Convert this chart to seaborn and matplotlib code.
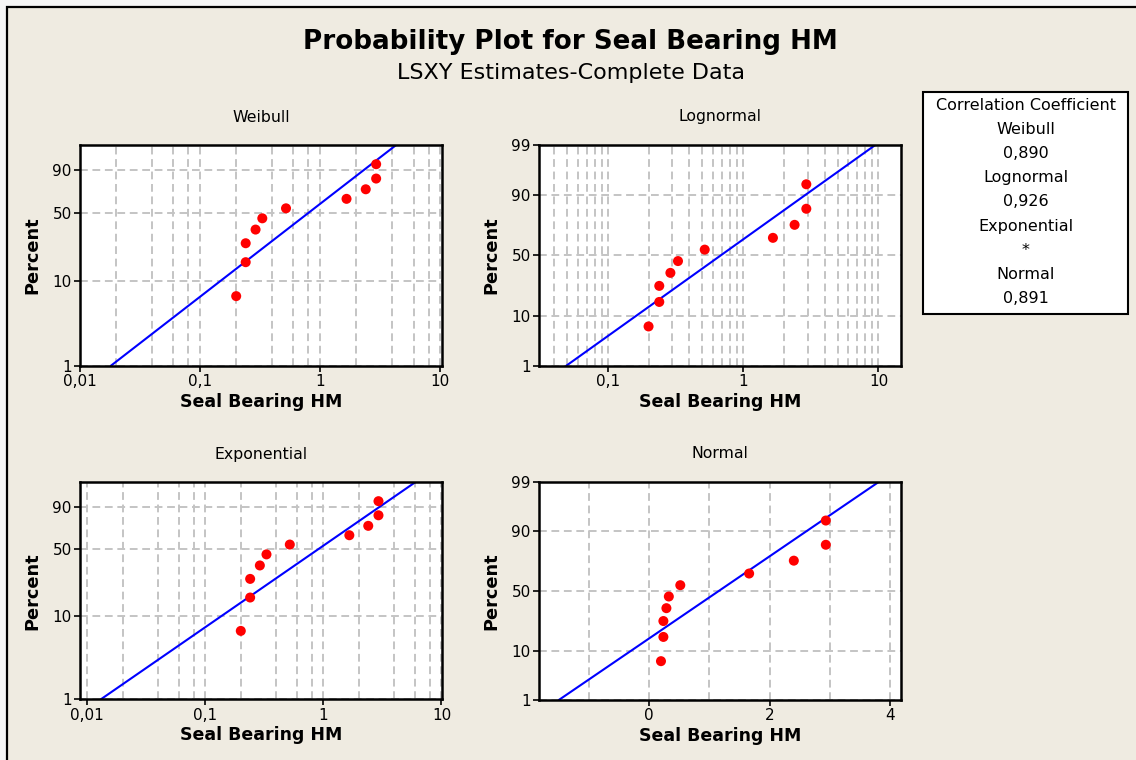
import numpy as np
import seaborn as sns
import matplotlib
matplotlib.use("Agg")
import matplotlib.pyplot as plt
from matplotlib.ticker import FixedLocator, NullLocator, FixedFormatter
from matplotlib.patches import Rectangle
from statistics import NormalDist

# data
seal_hm = [0.20, 0.24, 0.24, 0.29, 0.33, 0.52, 1.66, 2.40, 2.93, 2.93]
percent = [6.7, 16.3, 26.0, 35.6, 45.2, 54.8, 64.4, 74.0, 83.7, 93.3]

# fitted lines (LSXY estimates)
weibull_shape, weibull_scale = 1.12, 1.10
lognormal_loc, lognormal_scale = -0.38, 1.13
expo_mean = 1.30
normal_mean, normal_sd = 1.16, 1.14

corr_names = ["Weibull", "Lognormal", "Exponential", "Normal"]
corr_values = ["0,890", "0,926", "*", "0,891"]

log_ticks = [0.01, 0.1, 1, 10]
log_labels = ["0,01", "0,1", "1", "10"]
normal_ticks = [0, 2, 4]

BG = "#EFEBE1"
W, H = 1136, 760

sns.set_theme(style="white")
plt.rcParams["font.family"] = ["DejaVu Sans"]
plt.rcParams["text.color"] = "black"
plt.rcParams["axes.labelcolor"] = "black"
plt.rcParams["xtick.color"] = "black"
plt.rcParams["ytick.color"] = "black"

nd = NormalDist()
_inv_cdf = np.vectorize(nd.inv_cdf, otypes=[float])
_cdf = np.vectorize(nd.cdf, otypes=[float])


def _clip(p):
    return np.clip(np.asarray(p, dtype=float), 1e-6, 100 - 1e-6) / 100


def norm_fwd(p):
    return _inv_cdf(_clip(p))


def norm_inv(z):
    return 100 * _cdf(np.clip(np.asarray(z, dtype=float), -30, 30))


def weib_fwd(p):
    return np.log(-np.log1p(-_clip(p)))


def weib_inv(w):
    return 100 * -np.expm1(-np.exp(np.clip(np.asarray(w, dtype=float), -50, 5)))


line_pct = np.linspace(1, 99.9, 300)
z_line = norm_fwd(line_pct)
q_line = -np.log1p(-line_pct / 100)

fit_x = {
    "Weibull": weibull_scale * q_line ** (1 / weibull_shape),
    "Lognormal": np.exp(lognormal_loc + lognormal_scale * z_line),
    "Exponential": expo_mean * q_line,
    "Normal": normal_mean + normal_sd * z_line,
}

fig = plt.figure(figsize=(W / 100, H / 100), dpi=100)
fig.patch.set_facecolor("#F6F6F6")
fig.patches.append(Rectangle((7 / W, -0.1), 1.2, 1.1 - 7 / H, transform=fig.transFigure,
                             facecolor=BG, edgecolor="black", lw=1.6, zorder=-10))


def px_rect(left, top, right, bottom):
    return [left / W, 1 - bottom / H, (right - left) / W, (bottom - top) / H]


panels = [
    ("Weibull", px_rect(80, 145, 441.7, 365.7), "weibull", (0.01, 10.3), [1, 2, 4, 6, 8], False),
    ("Lognormal", px_rect(539, 145, 900.7, 365.7), "normal", (0.031, 14.6), [1, 2, 3, 4, 5, 6, 7, 8, 9], True),
    ("Exponential", px_rect(80, 482.3, 441.7, 699.3), "weibull", (0.0087, 10.05), [1, 2, 4, 6, 8], False),
    ("Normal", px_rect(539, 481.7, 900.7, 700), "normal", (-1.82, 4.17), None, True),
]

grid_kw = dict(color="#C4C4C4", linestyle=(0, (4, 2.4)), linewidth=1.4)

for name, rect, yscale, xlim, mult, show99 in panels:
    ax = fig.add_axes(rect)
    ax.set_zorder(2)
    ax.set_facecolor("white")

    sns.lineplot(x=fit_x[name], y=line_pct, ax=ax, color="#0000FF", lw=1.5,
                 sort=False, estimator=None, zorder=2)
    sns.scatterplot(x=seal_hm, y=percent, ax=ax, color="#FF0000", s=52,
                    edgecolor="none", zorder=3)

    if yscale == "weibull":
        ax.set_yscale("function", functions=(weib_fwd, weib_inv))
    else:
        ax.set_yscale("function", functions=(norm_fwd, norm_inv))
    ax.set_ylim(1, 99)
    yt = [1, 10, 50, 90, 99] if show99 else [1, 10, 50, 90]
    ax.yaxis.set_major_locator(FixedLocator(yt))
    ax.yaxis.set_major_formatter(FixedFormatter([str(v) for v in yt]))
    ax.yaxis.set_minor_locator(NullLocator())

    if mult is not None:
        ax.set_xscale("log")
        ax.set_xlim(*xlim)
        minors = [m * 10.0 ** k for k in range(-3, 2) for m in mult if m != 1]
        minors = [v for v in minors if xlim[0] < v < xlim[1]]
        ax.xaxis.set_major_locator(FixedLocator(log_ticks))
        ax.xaxis.set_major_formatter(FixedFormatter(log_labels))
        ax.xaxis.set_minor_locator(FixedLocator(minors))
    else:
        ax.set_xlim(*xlim)
        ax.xaxis.set_major_locator(FixedLocator(normal_ticks))
        ax.xaxis.set_major_formatter(FixedFormatter([str(v) for v in normal_ticks]))
        ax.xaxis.set_minor_locator(FixedLocator([-1, 1, 3]))

    ax.grid(True, which="major", axis="both", **grid_kw)
    ax.grid(True, which="minor", axis="x", **grid_kw)
    ax.set_axisbelow(True)

    ax.tick_params(axis="both", which="major", direction="out", length=4, width=1.2,
                   labelsize=11, pad=2, colors="black", bottom=True, left=True)
    ax.tick_params(axis="x", which="minor", length=0)
    for s in ax.spines.values():
        s.set_visible(True)
        s.set_color("black")
        s.set_linewidth(1.8)

    ax.set_xlabel("")
    ax.set_ylabel("")

    # panel title and axis labels placed in pixel coords
    left = rect[0] * W
    right = left + rect[2] * W
    top = (1 - rect[1] - rect[3]) * H
    bottom = (1 - rect[1]) * H
    cx = (left + right) / 2
    fig.text(cx / W, 1 - (top - 28) / H, name, ha="center", va="center", fontsize=11.3)
    fig.text(cx / W, 1 - (bottom + 36) / H, "Seal Bearing HM", ha="center", va="center",
             fontsize=12.5, fontweight="bold")
    fig.text((left - 48) / W, 1 - ((top + bottom) / 2) / H, "Percent", ha="center", va="center",
             rotation=90, fontsize=12.8, fontweight="bold")

fig.text(570.5 / W, 1 - 42 / H, "Probability Plot for Seal Bearing HM", ha="center", va="center",
         fontsize=18.8, fontweight="bold")
fig.text(571 / W, 1 - 73 / H, "LSXY Estimates-Complete Data", ha="center", va="center", fontsize=16)

# correlation coefficient box
fig.patches.append(Rectangle((923 / W, 1 - 313.5 / H), (1128 - 923) / W, (313.5 - 92) / H,
                             transform=fig.transFigure, facecolor="white", edgecolor="black",
                             lw=1.5, zorder=1))
box_cx = (923 + 1128) / 2 / W
lines = ["Correlation Coefficient"]
for n, v in zip(corr_names, corr_values):
    lines += [n, v]
for i, t in enumerate(lines):
    fig.text(box_cx, 1 - (105.5 + i * 24.1) / H, t, ha="center", va="center", fontsize=11.5)

fig.savefig("out.png", dpi=100, facecolor=fig.get_facecolor())
